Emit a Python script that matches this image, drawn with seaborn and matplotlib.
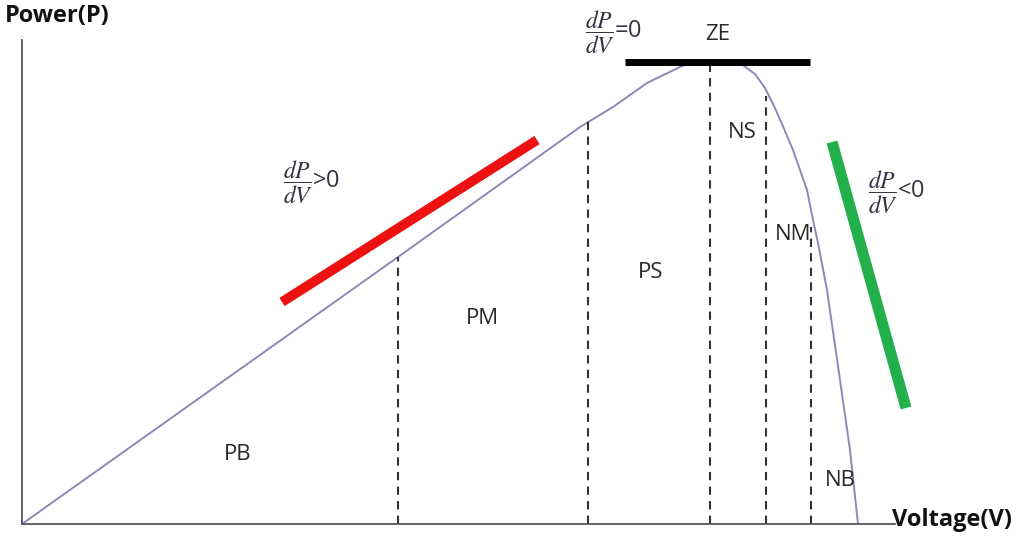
import pandas as pd
import seaborn as sns
import matplotlib.pyplot as plt

# P-V curve of the panel (arbitrary units)
voltage = [0, 376, 558, 591, 625, 658, 668, 693, 718, 733, 743, 752, 760,
           771, 785, 791, 796, 805, 818, 828, 836]
power = [0, 267, 397, 417, 441, 457, 461, 462, 461, 450, 436, 418, 400,
         374, 334, 304, 281, 234, 144, 74, 0]

# fuzzy region boundaries (dashed lines): voltage and curve height
bound_v = [376, 566, 688, 744, 789]
bound_p = [267, 404, 462, 428, 297]

# region names and where they sit
regions = ['PB', 'PM', 'PS', 'ZE', 'NS', 'NM', 'NB']
region_v = [216, 460, 629, 696, 720, 771, 818]
region_p = [69, 206, 252, 489, 391, 289, 44]

# slope markers
pos_slope_v = [260, 515]
pos_slope_p = [222, 384]
zero_slope_v = [603, 788]
zero_slope_p = [462, 462]
neg_slope_v = [810, 884]
neg_slope_p = [382, 116]


def main():
    sns.set_theme(style='white')
    plt.rcParams['font.family'] = ['Open Sans', 'DejaVu Sans']
    plt.rcParams['mathtext.fontset'] = 'stix'

    fig = plt.figure(figsize=(10.24, 5.38), dpi=100)
    ax = fig.add_axes([22 / 1024, 14 / 538, 873 / 1024, 484 / 538])
    ax.set_xlim(0, 873)
    ax.set_ylim(0, 484)

    curve = pd.DataFrame({'V': voltage, 'P': power})
    sns.lineplot(data=curve, x='V', y='P', color='#8a8ab8', lw=1.4,
                 ax=ax, sort=False)

    ax.vlines(bound_v, 0, bound_p, colors='#333333', linestyles=(0, (4, 3)),
              lw=1.5)

    ax.plot(pos_slope_v, pos_slope_p, color='#ee1111', lw=7,
            solid_capstyle='butt')
    ax.plot(zero_slope_v, zero_slope_p, color='black', lw=5,
            solid_capstyle='butt')
    ax.plot(neg_slope_v, neg_slope_p, color='#22b04a', lw=8,
            solid_capstyle='butt', clip_on=False)

    for name, v, p in zip(regions, region_v, region_p):
        ax.text(v, p, name, fontsize=16, color='#2a2a2a', ha='center',
                va='center')

    frac = r'$\dfrac{dP}{dV}$'
    ax.text(261, 342, frac + '>0', fontsize=17, color='#333344',
            va='center')
    ax.text(563, 492, frac + '=0', fontsize=17, color='#333344',
            va='center', clip_on=False)
    ax.text(846, 332, frac + '<0', fontsize=17, color='#333344',
            va='center', clip_on=False)

    for side in ['top', 'right']:
        ax.spines[side].set_visible(False)
    for side in ['left', 'bottom']:
        ax.spines[side].set_color('#555555')
        ax.spines[side].set_linewidth(1.3)
    ax.set_xticks([])
    ax.set_yticks([])
    ax.set_xlabel('')
    ax.set_ylabel('')

    fig.text(5 / 1024, 1 - 16 / 538, 'Power(P)', fontsize=17,
             fontweight='bold', color='#111111', va='center')
    fig.text(892 / 1024, 1 - 520 / 538, 'Voltage(V)', fontsize=17,
             fontweight='bold', color='#111111', va='center')

    fig.savefig('out.png', dpi=100)


if __name__ == '__main__':
    main()
